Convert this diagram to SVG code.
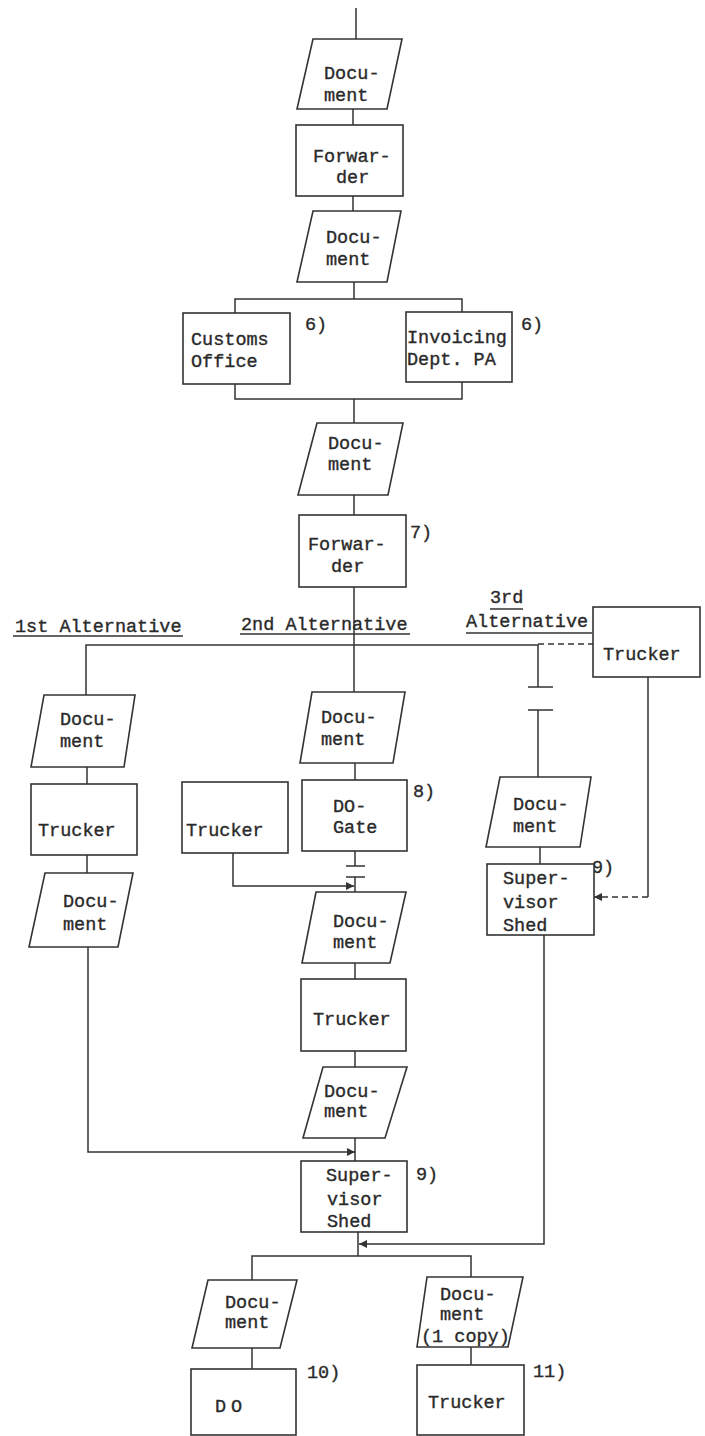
<svg xmlns="http://www.w3.org/2000/svg" width="705" height="1436" viewBox="0 0 705 1436">
<style>
.n{fill:#fff;stroke:#333;stroke-width:1.6}
.c{fill:none;stroke:#333;stroke-width:1.5}
.d{fill:none;stroke:#333;stroke-width:1.5;stroke-dasharray:6 4}
.t{font-family:"Liberation Mono","DejaVu Sans Mono",monospace;font-size:18.5px;fill:#2a2a2a;stroke:#2a2a2a;stroke-width:0.35}
</style>
<defs>
<marker id="ah" viewBox="0 0 10 10" refX="10" refY="5" markerUnits="userSpaceOnUse" markerWidth="9" markerHeight="8" orient="auto">
<path d="M0,0 L10,5 L0,10 z" fill="#333"/>
</marker>
</defs>
<rect width="705" height="1436" fill="#fff"/>
<g id="connectors">
<path class="c" d="M356,8 V39"/>
<path class="c" d="M353,109 V125"/>
<path class="c" d="M353,196 V211"/>
<path class="c" d="M354,282 V299"/>
<path class="c" d="M235,313 V299 H462 V312"/>
<path class="c" d="M235,384 V399 H462 V382"/>
<path class="c" d="M354,399 V423"/>
<path class="c" d="M354,495 V515"/>
<path class="c" d="M354,587 V692"/>
<path class="c" d="M86,695 V645 H538 V687"/>
<path class="c" d="M528,687 H553 M528,710 H553"/>
<path class="c" d="M538,710 V777"/>
<path class="d" d="M538,644 H593"/>
<path class="c" d="M87,767 V784"/>
<path class="c" d="M87,855 V873"/>
<path class="c" d="M88,947 V1152 H355" marker-end="url(#ah)"/>
<path class="c" d="M355,763 V780"/>
<path class="c" d="M355,851 V866"/>
<path class="c" d="M346,866 H365 M346,877 H365"/>
<path class="c" d="M355,877 V892"/>
<path class="c" d="M233,853 V886 H354" marker-end="url(#ah)"/>
<path class="c" d="M355,963 V979"/>
<path class="c" d="M355,1051 V1067"/>
<path class="c" d="M355,1138 V1161"/>
<path class="c" d="M540,847 V864"/>
<path class="c" d="M648,677 V897"/>
<path class="d" d="M648,897 H594" marker-end="url(#ah)"/>
<path class="c" d="M544,935 V1244 H359" marker-end="url(#ah)"/>
<path class="c" d="M358,1232 V1256"/>
<path class="c" d="M252,1280 V1256 H471 V1277"/>
<path class="c" d="M252,1348 V1369"/>
<path class="c" d="M471,1347 V1365"/>
</g>
<g id="labels">
<text class="t" x="15" y="632">1st Alternative</text>
<path class="c" d="M13,636 H183"/>
<text class="t" x="241" y="630">2nd Alternative</text>
<path class="c" d="M240,634 H410"/>
<text class="t" x="490" y="603">3rd</text>
<path class="c" d="M490,609 H523"/>
<text class="t" x="466" y="627">Alternative</text>
<path class="c" d="M466,633 H592"/>
<text class="t" x="410" y="538">7)</text>
<text class="t" x="305" y="330">6)</text>
<text class="t" x="521" y="330">6)</text>
<text class="t" x="413" y="797">8)</text>
<text class="t" x="592" y="873">9)</text>
<text class="t" x="416" y="1180">9)</text>
<text class="t" x="307" y="1378">10)</text>
<text class="t" x="533" y="1377">11)</text>
</g>
<g id="doc1"><polygon class="n" points="313,39 402,39 387,109 297,109"/><text class="t" x="324" y="79">Docu-</text><text class="t" x="324" y="101">ment</text></g>
<g id="forwarder1"><rect class="n" x="296" y="125" width="107" height="71"/><text class="t" x="313" y="162">Forwar-</text><text class="t" x="336" y="183">der</text></g>
<g id="doc2"><polygon class="n" points="313,211 401,211 387,282 297,282"/><text class="t" x="326" y="243">Docu-</text><text class="t" x="326" y="265">ment</text></g>
<g id="customs"><rect class="n" x="183" y="313" width="107" height="71"/><text class="t" x="191" y="345">Customs</text><text class="t" x="191" y="367">Office</text></g>
<g id="invoicing"><rect class="n" x="406" y="312" width="106" height="70"/><text class="t" x="407" y="343">Invoicing</text><text class="t" x="407" y="365">Dept. PA</text></g>
<g id="doc3"><polygon class="n" points="317,423 403,423 388,495 298,495"/><text class="t" x="328" y="449">Docu-</text><text class="t" x="328" y="470">ment</text></g>
<g id="forwarder2"><rect class="n" x="299" y="515" width="107" height="72"/><text class="t" x="308" y="550">Forwar-</text><text class="t" x="331" y="572">der</text></g>
<g id="trucker3"><rect class="n" x="593" y="607" width="107" height="70"/><text class="t" x="603" y="660">Trucker</text></g>
<g id="doc1a"><polygon class="n" points="44,695 135,695 124,767 31,767"/><text class="t" x="60" y="725">Docu-</text><text class="t" x="60" y="747">ment</text></g>
<g id="trucker1"><rect class="n" x="31" y="784" width="106" height="71"/><text class="t" x="38" y="836">Trucker</text></g>
<g id="doc1b"><polygon class="n" points="45,873 133,873 118,947 29,947"/><text class="t" x="63" y="907">Docu-</text><text class="t" x="63" y="930">ment</text></g>
<g id="doc2a"><polygon class="n" points="312,692 405,692 393,763 300,763"/><text class="t" x="321" y="723">Docu-</text><text class="t" x="321" y="745">ment</text></g>
<g id="truckerL"><rect class="n" x="182" y="782" width="106" height="71"/><text class="t" x="186" y="836">Trucker</text></g>
<g id="dogate"><rect class="n" x="302" y="780" width="105" height="71"/><text class="t" x="333" y="812">DO-</text><text class="t" x="333" y="833">Gate</text></g>
<g id="doc2b"><polygon class="n" points="316,892 406,892 390,963 302,963"/><text class="t" x="333" y="927">Docu-</text><text class="t" x="333" y="948">ment</text></g>
<g id="trucker2"><rect class="n" x="301" y="979" width="105" height="72"/><text class="t" x="313" y="1025">Trucker</text></g>
<g id="doc2c"><polygon class="n" points="323,1067 407,1067 385,1138 303,1138"/><text class="t" x="324" y="1097">Docu-</text><text class="t" x="324" y="1117">ment</text></g>
<g id="doc3a"><polygon class="n" points="500,777 591,777 580,847 486,847"/><text class="t" x="513" y="810">Docu-</text><text class="t" x="513" y="832">ment</text></g>
<g id="shed3"><rect class="n" x="487" y="864" width="107" height="71"/><text class="t" x="503" y="884">Super-</text><text class="t" x="503" y="908">visor</text><text class="t" x="503" y="931">Shed</text></g>
<g id="shed"><rect class="n" x="301" y="1161" width="106" height="71"/><text class="t" x="326" y="1181">Super-</text><text class="t" x="327" y="1205">visor</text><text class="t" x="327" y="1227">Shed</text></g>
<g id="docDO"><polygon class="n" points="208,1280 297,1280 280,1348 192,1348"/><text class="t" x="225" y="1308">Docu-</text><text class="t" x="225" y="1328">ment</text></g>
<g id="docCopy"><polygon class="n" points="427,1277 523,1277 508,1347 417,1347"/><text class="t" x="440" y="1300">Docu-</text><text class="t" x="440" y="1320">ment</text><text class="t" x="421" y="1342">(1 copy)</text></g>
<g id="do"><rect class="n" x="191" y="1369" width="105" height="66"/><text class="t" x="215" y="1412" letter-spacing="5">DO</text></g>
<g id="truckerB"><rect class="n" x="417" y="1365" width="107" height="70"/><text class="t" x="428" y="1408">Trucker</text></g>
</svg>
